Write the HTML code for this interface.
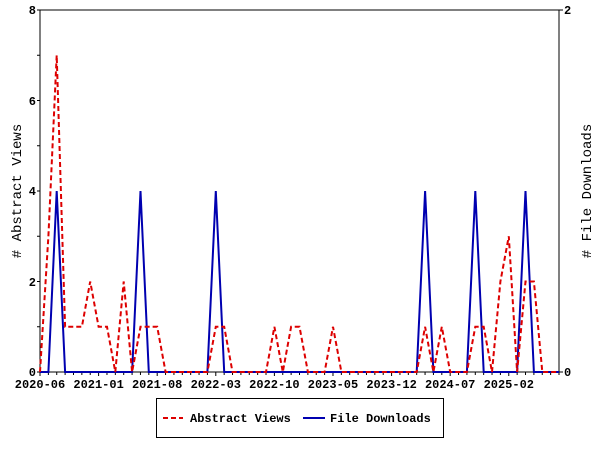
<!DOCTYPE html>
<html><head><meta charset="utf-8"><style>
html,body{margin:0;padding:0;background:#fff;width:600px;height:450px;overflow:hidden}
svg text{font-family:"Liberation Mono",monospace;font-weight:bold;font-size:12px;fill:#000}
svg text.t{font-weight:normal;font-size:14px}
</style></head><body>
<svg id="s" width="600" height="450" xmlns="http://www.w3.org/2000/svg">
<rect x="40" y="10" width="519" height="362" fill="none" stroke="#000" stroke-width="1"/>
<g id="g"></g>
<text x="36" y="14" text-anchor="end">8</text>
<text x="36" y="105" text-anchor="end">6</text>
<text x="36" y="195" text-anchor="end">4</text>
<text x="36" y="376" text-anchor="end">0</text>
<text x="36" y="286" text-anchor="end">2</text>
<text x="564" y="14">2</text>
<text x="564" y="376">0</text>
<text class="t" transform="translate(21,191) rotate(-90)" text-anchor="middle"># Abstract Views</text>
<text class="t" transform="translate(591,191) rotate(-90)" text-anchor="middle"># File Downloads</text>
<rect x="156.5" y="398.5" width="287" height="39" fill="none" stroke="#000"/>
<line x1="163" y1="418" x2="183" y2="418" stroke="#d00" stroke-width="2" stroke-dasharray="5,3"/>
<text x="190" y="422">Abstract Views</text>
<line x1="303" y1="418" x2="325" y2="418" stroke="#0000b0" stroke-width="2"/>
<text x="330" y="422">File Downloads</text>
</svg>
<script>
var g=document.getElementById('g'),h='';
var dx=519/62;
for(var i=0;i<=62;i++){var x=40+i*dx;h+='<line x1="'+x+'" y1="372" x2="'+x+'" y2="'+(i%7==0?376:375)+'" stroke="#000"/>';}
for(var v=0;v<=8;v++){var y=372-v*45.25;h+='<line x1="37" y1="'+y+'" x2="40" y2="'+y+'" stroke="#000"/>';}
h+='<line x1="559" y1="10" x2="563" y2="10" stroke="#000"/><line x1="559" y1="372" x2="563" y2="372" stroke="#000"/>';
var labs=['2020-06','2021-01','2021-08','2022-03','2022-10','2023-05','2023-12','2024-07','2025-02'];
for(var k=0;k<labs.length;k++){h+='<text x="'+(40+k*7*dx)+'" y="388" text-anchor="middle">'+labs[k]+'</text>';}
var red=new Array(63).fill(0);
var rv={1:3,2:7,3:1,4:1,5:1,6:2,7:1,8:1,10:2,12:1,13:1,14:1,21:1,22:1,28:1,30:1,31:1,35:1,46:1,48:1,52:1,53:1,55:2,56:3,58:2,59:2};
for(var k in rv)red[k]=rv[k];
var blue=new Array(63).fill(0);[2,12,21,46,52,58].forEach(function(k){blue[k]=1});
var pr='',pb='';
for(var i=0;i<=62;i++){var x=(40+i*dx).toFixed(1);pr+=x+','+(372-red[i]*45.25)+' ';pb+=x+','+(372-blue[i]*181)+' ';}
h+='<polyline points="'+pb+'" fill="none" stroke="#0000b0" stroke-width="2"/>';
h+='<polyline points="'+pr+'" fill="none" stroke="#d00" stroke-width="2" stroke-dasharray="5,3"/>';
g.innerHTML=h;
</script>
</body></html>
